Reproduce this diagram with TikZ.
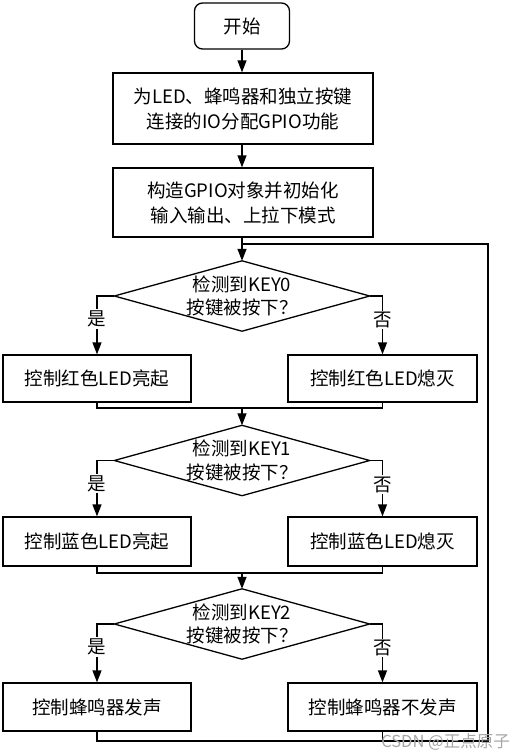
\documentclass[tikz,border=0pt]{standalone}
\usepackage{fontspec}
\setmainfont{Noto Sans CJK SC}
\usetikzlibrary{arrows.meta}
\begin{document}
\begin{tikzpicture}[x=1pt,y=-1pt,
  every node/.style={font=\fontsize{18.5}{25}\selectfont, inner sep=0pt, align=center},
  stepbox/.style={draw, line width=1.3pt, fill=white},
  startbox/.style={draw, line width=1.3pt, rounded corners=8pt, minimum width=95pt, minimum height=46pt},
  decbox/.style={minimum width=255pt, minimum height=70pt, font=\fontsize{18.5}{23.5}\selectfont},
  conn/.style={line width=1.3pt},
  arr/.style={line width=1.3pt, -{Triangle[length=12pt,width=9pt]}},
  lbl/.style={fill=white, inner sep=1.5pt}
]
\useasboundingbox (0,0) rectangle (526,756);

\node[startbox] (start) at (242,26) {开始};
\node[stepbox, minimum width=260pt, minimum height=71pt] (b1) at (243,108.5) {为LED、蜂鸣器和独立按键\\连接的IO分配GPIO功能};
\node[stepbox, minimum width=260pt, minimum height=69pt] (b2) at (243,202.5) {构造GPIO对象并初始化\\输入输出、上拉下模式};

\node[decbox] (d1) at (242,296) {检测到KEY0\\按键被按下？};
\node[decbox] (d2) at (242,460.5) {检测到KEY1\\按键被按下？};
\node[decbox] (d3) at (242,624) {检测到KEY2\\按键被按下？};
\foreach \d in {d1,d2,d3}{
  \draw[conn, line join=miter] (\d.north) -- (\d.east) -- (\d.south) -- (\d.west) -- cycle;
}

\node[stepbox, minimum width=188pt, minimum height=47pt] (l1) at (97,378.5) {控制红色LED亮起};
\node[stepbox, minimum width=189pt, minimum height=47pt] (r1) at (382.5,378.5) {控制红色LED熄灭};
\node[stepbox, minimum width=188pt, minimum height=49pt] (l2) at (97,541.5) {控制蓝色LED亮起};
\node[stepbox, minimum width=189pt, minimum height=49pt] (r2) at (382.5,541.5) {控制蓝色LED熄灭};
\node[stepbox, minimum width=188pt, minimum height=48pt] (l3) at (97,707) {控制蜂鸣器发声};
\node[stepbox, minimum width=189pt, minimum height=48pt] (r3) at (382.5,707) {控制蜂鸣器不发声};

% main flow
\draw[arr] (start.south) -- (b1.north -| start.south);
\draw[arr] (b1.south -| d1.north) -- (b2.north -| d1.north);
\draw[arr] (b2.south -| d1.north) -- (d1.north);

% branches
\foreach \d/\l/\r in {d1/l1/r1, d2/l2/r2, d3/l3/r3}{
  \draw[arr] (\d.west) -| (\l.north);
  \draw[arr] (\d.east) -| (\r.north);
  \node[lbl] at ([yshift=-23pt]\d.west -| \l.north) {是};
  \node[lbl] at ([yshift=-24pt]\d.east -| \r.north) {否};
}

% merges
\coordinate (m1) at (242,408);
\coordinate (m2) at (242,573);
\draw[conn] (l1.south) -- (l1.south |- m1) -- (r1.south |- m1) -- (r1.south);
\draw[arr] (m1) -- (d2.north);
\draw[conn] (l2.south) -- (l2.south |- m2) -- (r2.south |- m2) -- (r2.south);
\draw[arr] (m2) -- (d3.north);

% loop back
\coordinate (bl) at (97,741);
\coordinate (br) at (488,741);
\coordinate (tr) at (488,244);
\coordinate (tl) at (242,244);
\draw[conn] (l3.south) -- (bl) -- (br) -- (tr) -- (tl);
\draw[conn] (r3.south) -- (r3.south |- bl);

% watermark
\node[text=black!35, font=\fontsize{16.5}{18}\selectfont, anchor=east] (wm) at (510,742) {CSDN @正点原子};
\end{tikzpicture}
\end{document}
